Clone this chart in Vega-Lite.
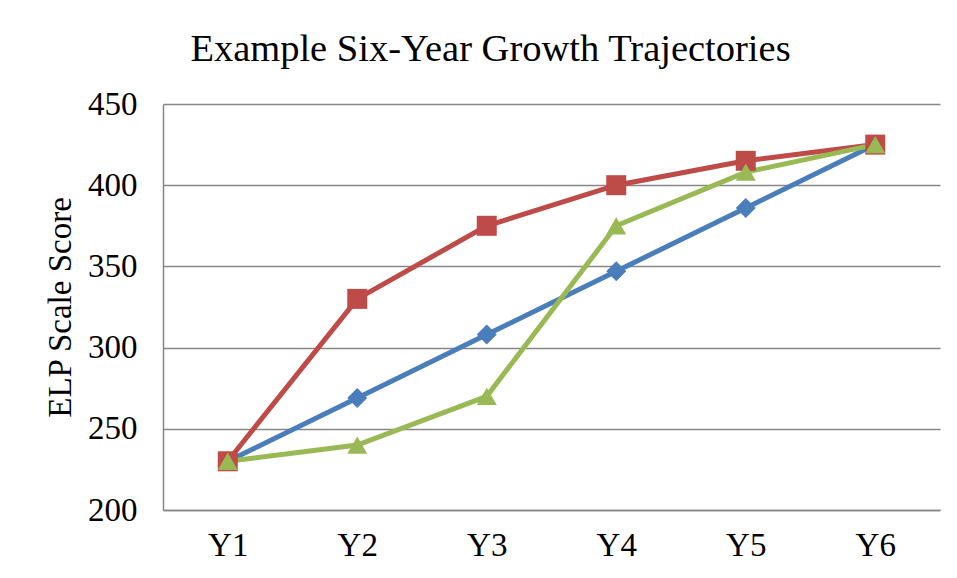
{
  "$schema": "https://vega.github.io/schema/vega-lite/v6.json",
  "autosize": "none",
  "width": 777,
  "height": 406,
  "padding": {"left": 163, "top": 104, "right": 17, "bottom": 68},
  "background": "white",
  "title": {
    "text": "Example Six-Year Growth Trajectories",
    "font": "Liberation Serif",
    "fontSize": 38.5,
    "fontWeight": "normal",
    "color": "black",
    "anchor": "middle",
    "dx": -61,
    "offset": 19
  },
  "data": {
    "values": [
      {"year": "Y1", "series": "A", "score": 230},
      {"year": "Y2", "series": "A", "score": 269},
      {"year": "Y3", "series": "A", "score": 308},
      {"year": "Y4", "series": "A", "score": 347},
      {"year": "Y5", "series": "A", "score": 386},
      {"year": "Y6", "series": "A", "score": 425},
      {"year": "Y1", "series": "B", "score": 230},
      {"year": "Y2", "series": "B", "score": 330},
      {"year": "Y3", "series": "B", "score": 375},
      {"year": "Y4", "series": "B", "score": 400},
      {"year": "Y5", "series": "B", "score": 415},
      {"year": "Y6", "series": "B", "score": 425},
      {"year": "Y1", "series": "C", "score": 230},
      {"year": "Y2", "series": "C", "score": 240},
      {"year": "Y3", "series": "C", "score": 270},
      {"year": "Y4", "series": "C", "score": 375},
      {"year": "Y5", "series": "C", "score": 408},
      {"year": "Y6", "series": "C", "score": 425}
    ]
  },
  "encoding": {
    "x": {
      "field": "year",
      "type": "ordinal",
      "scale": {"type": "point", "padding": 0.5},
      "axis": {
        "title": null,
        "labelAngle": 0,
        "labelFont": "Liberation Serif",
        "labelFontSize": 33,
        "labelColor": "black",
        "labelPadding": 19,
        "ticks": false,
        "grid": false,
        "domainColor": "#868686",
        "domainWidth": 1.5
      }
    },
    "y": {
      "field": "score",
      "type": "quantitative",
      "scale": {"domain": [200, 450], "nice": false, "zero": false},
      "axis": {
        "title": "ELP Scale Score",
        "titleFont": "Liberation Serif",
        "titleFontSize": 33,
        "titleFontWeight": "normal",
        "titleColor": "black",
        "titlePadding": 10,
        "values": [200, 250, 300, 350, 400, 450],
        "labelFont": "Liberation Serif",
        "labelFontSize": 33,
        "labelColor": "black",
        "labelPadding": 26,
        "ticks": false,
        "grid": true,
        "gridColor": "#868686",
        "gridWidth": 1.5,
        "domainColor": "#868686",
        "domainWidth": 1.5
      }
    },
    "color": {
      "field": "series",
      "type": "nominal",
      "scale": {"domain": ["A", "B", "C"], "range": ["#4A7EBB", "#BE4B48", "#98B954"]},
      "legend": null
    }
  },
  "layer": [
    {"mark": {"type": "line", "strokeWidth": 5}},
    {
      "mark": {"type": "point", "filled": true, "opacity": 1, "size": 400},
      "encoding": {
        "shape": {
          "field": "series",
          "type": "nominal",
          "scale": {"domain": ["A", "B", "C"], "range": ["diamond", "square", "triangle-up"]},
          "legend": null
        }
      }
    }
  ],
  "config": {"view": {"stroke": null}}
}
